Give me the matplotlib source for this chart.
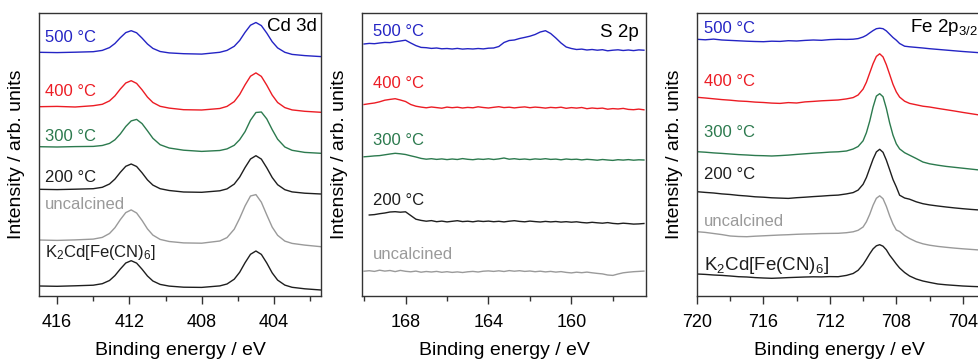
import matplotlib
matplotlib.use('Agg')
import matplotlib.pyplot as plt
import numpy as np
from matplotlib.ticker import MultipleLocator

plt.rcParams['font.family'] = ['Liberation Sans', 'DejaVu Sans']
plt.rcParams['mathtext.fontset'] = 'custom'
plt.rcParams['mathtext.rm'] = 'Liberation Sans'
plt.rcParams['mathtext.it'] = 'Liberation Sans:italic'
plt.rcParams['mathtext.default'] = 'rm'

# ---- Cd 3d (binding energy in eV, intensity in arb. units, already offset) ----
cd_be = [417.0, 416.0, 415.0, 414.0, 413.5, 413.1, 412.8, 412.5, 412.2, 411.9, 411.6,
         411.3, 411.0, 410.7, 410.3, 409.8, 409.0, 408.0, 407.0, 406.6, 406.2, 405.9,
         405.6, 405.3, 405.0, 404.7, 404.4, 404.1, 403.8, 403.4, 403.0, 402.3, 401.4]
cd_500 = [243.7, 243.4, 243.8, 244.3, 245.6, 248.4, 252.5, 258.3, 263.4, 265.3, 263.2,
          257.9, 252.0, 247.6, 244.5, 243.1, 242.3, 241.9, 243.7, 245.6, 249.7, 255.5,
          263.7, 270.8, 273.5, 270.4, 262.9, 254.3, 248.1, 243.7, 241.6, 240.4, 239.4]
cd_400 = [189.3, 189.6, 189.0, 190.3, 191.7, 195.1, 200.1, 207.0, 213.0, 215.3, 212.6,
          206.2, 198.9, 193.5, 189.7, 187.9, 186.3, 186.0, 187.5, 189.6, 194.4, 201.5,
          211.2, 219.8, 223.1, 219.6, 210.8, 200.9, 193.5, 188.4, 186.1, 184.7, 183.7]
cd_300 = [149.3, 149.0, 149.4, 149.6, 150.5, 152.6, 156.2, 162.1, 169.5, 175.1, 176.6,
          172.4, 165.2, 157.7, 151.3, 148.0, 145.8, 144.6, 145.5, 147.1, 150.7, 156.3,
          164.4, 175.8, 183.5, 184.0, 177.1, 166.4, 156.8, 149.0, 145.7, 143.6, 142.7]
cd_200 = [106.7, 106.4, 106.8, 107.3, 108.7, 112.0, 116.9, 123.7, 129.7, 132.0, 129.5,
          123.2, 116.1, 110.9, 107.3, 105.5, 104.0, 103.7, 105.2, 107.1, 111.9, 118.9,
          128.5, 137.0, 140.3, 136.9, 128.2, 118.5, 111.3, 106.3, 104.1, 102.8, 102.0]
cd_unc = [56.0, 55.6, 56.1, 56.9, 58.6, 62.5, 68.3, 76.4, 83.4, 86.1, 83.0,
          75.6, 67.1, 60.9, 56.6, 54.5, 53.1, 52.8, 55.0, 58.4, 66.8, 77.7,
          90.1, 100.0, 101.4, 93.8, 81.1, 68.9, 60.7, 54.9, 52.6, 50.9, 49.3]
cd_ref = [10.0, 9.7, 10.2, 10.8, 12.3, 15.5, 20.4, 27.0, 33.0, 35.3, 32.9,
          26.8, 20.0, 15.0, 11.6, 9.9, 8.8, 8.6, 10.1, 12.0, 16.8, 23.7,
          33.3, 41.7, 45.0, 41.6, 33.0, 23.1, 15.9, 10.9, 8.7, 7.2, 6.0]

# ---- S 2p (170.0 -> 156.5 eV, 0.25 eV steps) ----
s_be = np.linspace(170.0, 156.5, 55)
s_500 = [252.0, 252.6, 252.3, 253.0, 253.6, 253.4, 254.3, 255.0, 255.8, 253.0, 250.4,
         248.6, 248.3, 247.6, 248.0, 247.2, 247.5, 247.0, 247.6, 246.9, 247.3, 247.0,
         247.5, 247.1, 247.8, 248.0, 249.5, 253.5, 255.5, 256.0, 257.5, 258.6, 259.8,
         261.5, 264.0, 265.3, 262.5, 258.0, 253.0, 249.0, 247.5, 246.5, 246.9, 246.0,
         246.5, 245.8, 246.3, 245.2, 245.8, 246.2, 245.5, 246.0, 245.4, 246.1, 245.8]
s_400 = [191.5, 192.3, 193.0, 194.2, 195.8, 196.6, 197.3, 196.0, 194.5, 191.5, 189.8,
         188.9, 188.2, 189.0, 188.4, 187.8, 188.9, 188.3, 188.8, 188.0, 188.6, 188.2,
         189.2, 188.5, 188.0, 188.7, 189.3, 188.4, 188.8, 188.1, 188.7, 189.1, 188.3,
         188.9, 188.5, 187.9, 188.6, 188.2, 188.8, 187.7, 188.4, 187.9, 188.5, 187.3,
         188.0, 187.5, 187.9, 186.8, 187.4, 187.0, 187.6, 186.6, 186.3, 186.9, 186.2]
s_300 = [139.2, 139.6, 140.1, 140.4, 141.2, 142.0, 142.7, 142.2, 141.5, 140.2, 139.0,
         137.6, 136.8, 137.3, 136.6, 137.1, 136.4, 137.0, 136.5, 137.4, 136.7, 136.3,
         137.0, 136.6, 137.2, 136.5, 137.1, 138.0, 136.8, 137.3, 136.6, 137.0, 136.4,
         137.1, 136.7, 137.3, 136.6, 136.9, 136.2, 137.0, 136.5, 136.8, 136.1, 136.7,
         136.3, 135.8, 136.5, 136.0, 135.6, 136.3, 135.9, 136.4, 135.8, 136.2, 136.0]
s_200 = [np.nan, 81.0, 81.4, 82.3, 83.0, 84.0, 84.3, 83.8, 84.2, 80.5, 76.8,
         75.6, 74.8, 75.4, 74.3, 74.9, 74.1, 74.7, 75.3, 74.4, 74.8, 74.2,
         75.0, 74.5, 74.9, 74.3, 74.7, 74.1, 74.8, 75.3, 74.6, 74.2, 74.9,
         74.4, 74.0, 74.6, 74.1, 74.5, 73.9, 74.3, 73.8, 74.2, 73.5, 73.1,
         73.7, 73.2, 72.8, 73.4, 72.6, 72.2, 72.8, 72.4, 71.9, 72.1, 72.5]
s_unc = [24.8, 25.3, 24.6, 25.8, 24.9, 25.5, 24.4, 25.6, 24.7, 24.2, 24.9,
         23.8, 24.5, 24.0, 24.6, 23.7, 24.3, 23.6, 24.1, 23.5, 24.2, 24.6,
         24.0, 24.8, 25.1, 24.6, 25.2, 24.5, 25.4, 24.8, 25.3, 24.6, 25.0,
         24.3, 24.8, 24.1, 24.6, 23.9, 24.4, 23.6, 23.1, 23.8, 23.3, 23.9,
         23.2, 22.6, 22.1, 21.0, 20.6, 22.0, 23.2, 23.8, 24.3, 24.6, 24.9]

# ---- Fe 2p3/2 ----
fe_be = [720.0, 719.5, 719.0, 718.5, 718.0, 717.5, 717.0, 716.5, 716.0, 715.5, 715.0,
         714.5, 714.0, 713.5, 713.0, 712.5, 712.0, 711.5, 711.0, 710.6, 710.3, 710.0,
         709.8, 709.6, 709.4, 709.2, 709.0, 708.8, 708.6, 708.4, 708.2, 708.0, 707.8,
         707.5, 707.2, 706.8, 706.4, 706.0, 705.5, 705.0, 704.5, 704.0, 703.5, 703.0]
fe_500 = [256.7, 256.2, 256.9, 256.0, 255.6, 255.2, 254.8, 254.5, 254.3, 254.8, 254.6,
          255.3, 255.0, 255.6, 256.0, 255.7, 256.4, 256.7, 256.6, 256.8, 257.4, 259.0,
          260.7, 263.1, 265.4, 267.3, 267.8, 267.3, 265.1, 261.8, 258.5, 255.8, 252.5,
          249.8, 249.2, 248.6, 248.0, 247.3, 246.6, 245.9, 245.2, 244.5, 243.9, 243.3]
fe_400 = [198.7, 198.0, 197.2, 196.4, 195.8, 195.0, 194.6, 193.9, 193.5, 192.9, 192.6,
          193.4, 193.0, 194.1, 194.6, 195.2, 195.6, 196.0, 197.1, 198.4, 201.0, 206.9,
          213.8, 223.1, 232.3, 239.6, 242.2, 239.1, 231.3, 221.6, 211.7, 204.1, 198.9,
          194.8, 192.6, 191.2, 189.8, 189.0, 187.6, 186.3, 185.0, 183.6, 182.3, 181.0]
fe_300 = [144.3, 143.8, 143.1, 142.6, 142.0, 141.4, 141.0, 140.5, 140.3, 140.0, 140.4,
          140.9, 141.6, 142.2, 142.8, 143.3, 143.9, 144.2, 145.0, 147.0, 149.5, 155.2,
          163.3, 174.9, 188.9, 199.9, 202.3, 199.3, 187.7, 173.1, 160.9, 152.2, 147.1,
          143.3, 140.8, 137.5, 134.0, 132.2, 130.8, 129.6, 128.7, 127.8, 126.9, 126.0]
fe_200 = [104.3, 103.6, 103.0, 102.1, 101.5, 100.6, 100.0, 99.2, 98.8, 98.2, 97.9,
          97.6, 98.3, 98.8, 99.4, 99.9, 100.5, 100.9, 102.1, 103.4, 105.9, 111.7,
          118.5, 127.7, 136.8, 144.1, 146.7, 143.7, 135.9, 126.3, 116.5, 109.1, 100.8,
          98.0, 96.8, 94.2, 92.3, 91.1, 90.0, 89.0, 88.1, 87.3, 86.6, 86.0]
fe_unc = [64.3, 63.6, 62.5, 61.4, 60.0, 59.5, 59.3, 59.8, 60.2, 60.6, 61.0,
          61.3, 61.7, 62.0, 62.2, 62.5, 62.6, 62.7, 63.3, 64.2, 65.7, 69.0,
          74.2, 81.7, 90.7, 97.7, 100.2, 97.3, 89.7, 80.2, 72.0, 66.0, 64.5,
          60.5, 57.5, 54.3, 52.2, 50.8, 49.6, 48.7, 47.9, 47.2, 46.6, 46.0]
fe_ref = [22.0, 21.6, 21.0, 20.6, 20.0, 19.3, 19.0, 18.4, 18.0, 17.7, 18.0,
          18.4, 18.7, 19.0, 19.2, 19.1, 19.4, 19.3, 20.6, 22.5, 25.7, 31.5,
          36.7, 42.2, 47.1, 50.2, 51.3, 49.8, 46.2, 40.8, 36.5, 32.0, 28.0,
          23.5, 20.0, 17.0, 15.0, 13.6, 12.0, 11.2, 10.6, 10.0, 9.6, 9.3]

blue = '#2424c4'
red = '#ec1c24'
green = '#2c7a4e'
gray = '#9a9a9a'
black = '#1e1e1e'

ref_label = r'K$_2$Cd[Fe(CN)$_6$]'

fig = plt.figure(figsize=(9.79, 3.6), dpi=100)
ax1 = fig.add_axes([39/979, 64/360, 282/979, 283/360])
ax2 = fig.add_axes([362/979, 64/360, 284/979, 283/360])
ax3 = fig.add_axes([697/979, 64/360, 284/979, 283/360])

for ax, be, curves in [
        (ax1, cd_be, [cd_500, cd_400, cd_300, cd_200, cd_unc, cd_ref]),
        (ax2, s_be, [s_500, s_400, s_300, s_200, s_unc]),
        (ax3, fe_be, [fe_500, fe_400, fe_300, fe_200, fe_unc, fe_ref])]:
    cols = [blue, red, green, black, gray, black]
    for y, c in zip(curves, cols):
        ax.plot(be, y, color=c, lw=1.0)
    ax.set_ylim(0, 283)
    ax.set_yticks([])
    ax.xaxis.set_major_locator(MultipleLocator(4))
    ax.xaxis.set_minor_locator(MultipleLocator(2))
    ax.tick_params(axis='x', which='major', direction='out', length=6, width=1,
                   labelsize=13, pad=7, color='#333333')
    ax.tick_params(axis='x', which='minor', direction='out', length=3.5, width=1,
                   color='#333333')
    for sp in ax.spines.values():
        sp.set_color('#333333')
        sp.set_linewidth(1.0)
    ax.set_xlabel('Binding energy / eV', fontsize=14, labelpad=8)
    ax.set_ylabel('Intensity / arb. units', fontsize=14)
    ax.yaxis.set_label_coords(-0.05, 0.5)

ax1.set_xlim(417.0, 401.4)
ax2.set_xlim(170.1, 156.4)
ax3.set_xlim(720.0, 702.9)

# sample labels: (text, colour, baseline position in axes fraction)
fs = 12
t1 = [('500 °C', blue, 0.897), ('400 °C', red, 0.708),
      ('300 °C', green, 0.549), ('200 °C', black, 0.404),
      ('uncalcined', gray, 0.306), (ref_label, black, 0.137)]
for txt, c, yy in t1:
    ax1.text(0.021, yy, txt, color=c, fontsize=fs,
             transform=ax1.transAxes, va='baseline', ha='left')
ax1.text(0.985, 0.936, 'Cd 3d', fontsize=13.5, transform=ax1.transAxes,
         va='baseline', ha='right')

t2 = [('500 °C', blue, 0.919), ('400 °C', red, 0.734), ('300 °C', green, 0.534),
      ('200 °C', black, 0.322), ('uncalcined', gray, 0.131)]
for txt, c, yy in t2:
    ax2.text(0.040, yy, txt, color=c, fontsize=fs, transform=ax2.transAxes,
             va='baseline', ha='left')
ax2.text(0.973, 0.916, 'S 2p', fontsize=13.5, transform=ax2.transAxes,
         va='baseline', ha='right')

t3 = [('500 °C', blue, 0.928, fs), ('400 °C', red, 0.742, fs), ('300 °C', green, 0.563, fs),
      ('200 °C', black, 0.412, fs), ('uncalcined', gray, 0.248, fs),
      (ref_label, black, 0.092, 13.5)]
for txt, c, yy, f in t3:
    ax3.text(0.025, yy, txt, color=c, fontsize=f, transform=ax3.transAxes,
             va='baseline', ha='left')
ax3.text(0.75, 0.932, r'Fe 2p$_{3/2}$', fontsize=13.5, transform=ax3.transAxes,
         va='baseline', ha='left')

fig.savefig('out.png', dpi=100)
